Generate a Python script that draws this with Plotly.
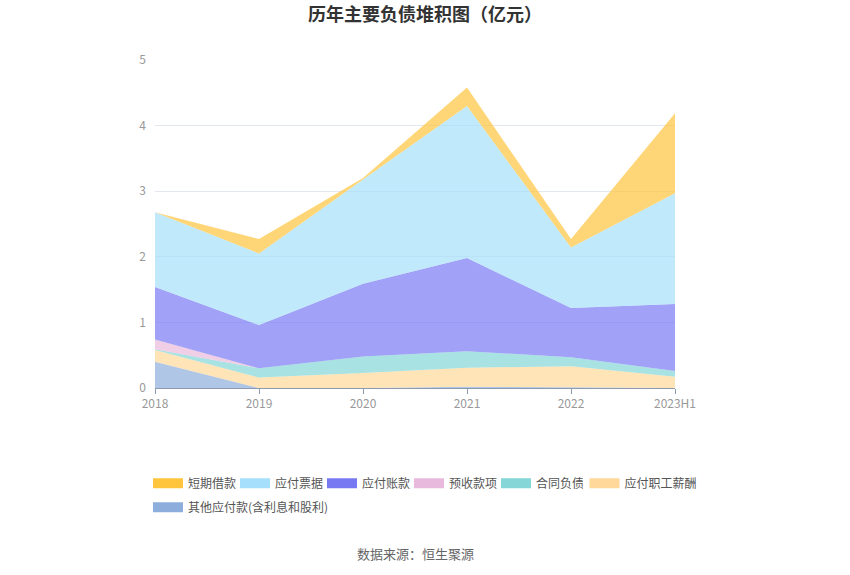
import plotly.graph_objects as go

years = ["2018", "2019", "2020", "2021", "2022", "2023H1"]

# values in 亿元 (stack order bottom -> top)
qita_yingfu = [0.40, 0.00, 0.00, 0.02, 0.01, 0.00]      # 其他应付款(含利息和股利)
zhigong_xinchou = [0.18, 0.16, 0.23, 0.29, 0.32, 0.17]  # 应付职工薪酬
hetong_fuzhai = [0.01, 0.14, 0.25, 0.25, 0.14, 0.09]    # 合同负债
yushou_kuanxiang = [0.15, 0.00, 0.00, 0.00, 0.00, 0.00] # 预收款项
yingfu_zhangkuan = [0.80, 0.66, 1.11, 1.42, 0.75, 1.02] # 应付账款
yingfu_piaoju = [1.14, 1.09, 1.59, 2.32, 0.92, 1.69]    # 应付票据
duanqi_jiekuan = [0.00, 0.22, 0.02, 0.28, 0.13, 1.22]   # 短期借款

series = [
    ("其他应付款(含利息和股利)", qita_yingfu, "#8DAEDD"),
    ("应付职工薪酬", zhigong_xinchou, "#FFD89A"),
    ("合同负债", hetong_fuzhai, "#84D6D7"),
    ("预收款项", yushou_kuanxiang, "#E8B9DC"),
    ("应付账款", yingfu_zhangkuan, "#7779F3"),
    ("应付票据", yingfu_piaoju, "#A6DFFB"),
    ("短期借款", duanqi_jiekuan, "#FFC53D"),
]

legend_of = {
    "其他应付款(含利息和股利)": "legend2",
    "应付职工薪酬": "legend3",
}


def rgba(h, a):
    h = h.lstrip("#")
    r, g, b = int(h[0:2], 16), int(h[2:4], 16), int(h[4:6], 16)
    return f"rgba({r},{g},{b},{a})"


fig = go.Figure()
for name, vals, col in series:
    fig.add_trace(go.Scatter(
        x=years, y=vals, name=name, mode="lines",
        stackgroup="one", line=dict(width=0, color=col),
        fillcolor=rgba(col, 0.7), hoverinfo="x+y+name", showlegend=False,
    ))

# legend entries
for name, vals, col in reversed(series):
    fig.add_trace(go.Scatter(
        x=[years[0]], y=[None], name=name, mode="lines",
        line=dict(width=14, color=col), hoverinfo="skip",
        legend=legend_of.get(name, "legend"),
    ))

font_family = "Noto Sans CJK SC"
leg_font = dict(size=12, color="#555555", family=font_family)

fig.update_layout(
    width=850, height=575,
    margin=dict(l=155, r=175, t=60, b=187),
    paper_bgcolor="white", plot_bgcolor="white",
    font=dict(family=font_family, size=12, color="#999999"),
    title=dict(text="<b>历年主要负债堆积图（亿元）</b>", x=0.5, xanchor="center",
               y=1 - 14.5 / 575, yanchor="middle", yref="container",
               font=dict(size=18, color="#333333", family=font_family)),
    xaxis=dict(type="category", range=[0, 5], showgrid=False,
               showline=True, linecolor="#8E9AAF", linewidth=1,
               ticks="outside", ticklen=5, tickcolor="#8E9AAF",
               tickfont=dict(size=12, color="#999999"), zeroline=False),
    yaxis=dict(range=[0, 5], dtick=1, showgrid=True, gridcolor="#E3E7F0",
               gridwidth=1, zeroline=False, showline=False, ticks="",
               ticklabelstandoff=8,
               tickfont=dict(size=12, color="#999999")),
    legend=dict(orientation="h", x=-0.0135, xanchor="left", y=-0.246, yanchor="top",
                traceorder="normal",
                entrywidth=42, entrywidthmode="pixels", itemwidth=30,
                font=leg_font, itemclick=False),
    legend3=dict(orientation="h", x=0.826, xanchor="left", y=-0.246, yanchor="top",
                 traceorder="normal", itemwidth=30,
                 font=leg_font, itemclick=False),
    legend2=dict(orientation="h", x=-0.0135, xanchor="left", y=-0.319, yanchor="top",
                 traceorder="normal", itemwidth=30,
                 font=leg_font, itemclick=False),
    showlegend=True,
    annotations=[dict(text="数据来源：恒生聚源", xref="paper", yref="paper",
                      x=0.5, y=-0.506, xanchor="center", yanchor="middle",
                      showarrow=False, font=dict(size=13, color="#666666"))],
)

fig.write_html("out.html", config={"displayModeBar": False},
               post_script="document.body.style.margin='0';")
